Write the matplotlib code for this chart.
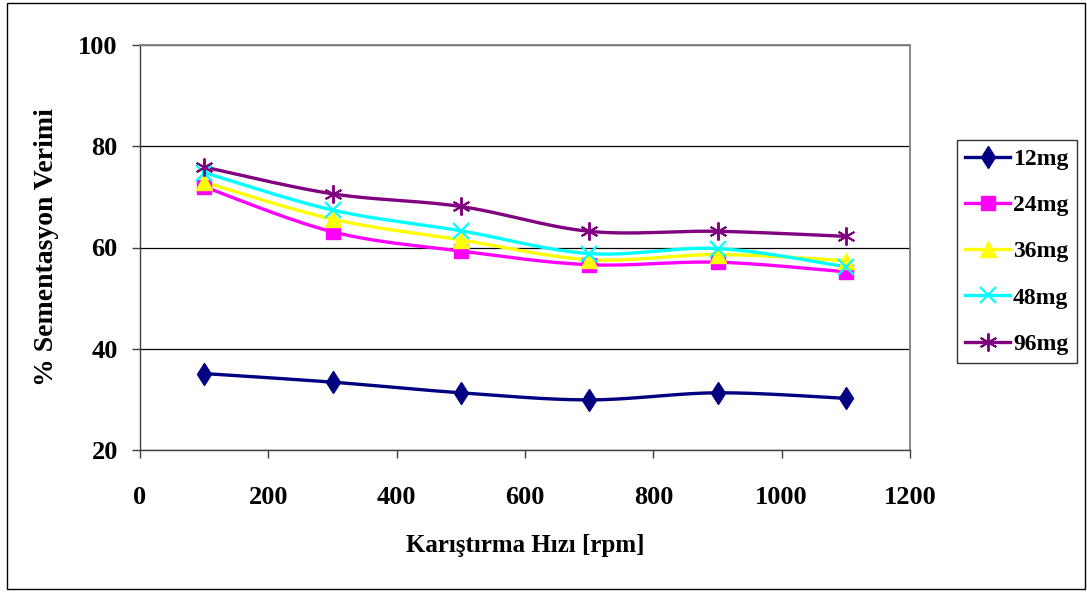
#!/usr/bin/env python
import numpy as np
import matplotlib
matplotlib.use("Agg")
import matplotlib.pyplot as plt
from matplotlib.patches import Rectangle


SPEED = [100, 300, 500, 700, 900, 1100]

Y_12MG = [35.1, 33.4, 31.3, 29.9, 31.3, 30.2]
Y_24MG = [72.0, 63.1, 59.3, 56.6, 57.1, 55.2]
Y_36MG = [72.9, 65.6, 61.5, 57.6, 58.6, 57.4]
Y_48MG = [74.8, 67.4, 63.3, 58.8, 59.8, 56.2]
Y_96MG = [75.9, 70.6, 68.1, 63.2, 63.2, 62.2]

SERIES = [
    ("12mg", Y_12MG, "#000080", "d", 11.5, 1.0),
    ("24mg", Y_24MG, "#ff00ff", "s", 9.5, 1.0),
    ("36mg", Y_36MG, "#ffff00", "^", 12, 1.0),
    ("48mg", Y_48MG, "#00ffff", "x", 11, 1.6),
    ("96mg", Y_96MG, "#800080", (6, 2, 0), 13, 1.4),
]


def smooth(x, y, n=30):
    """Catmull-Rom curve through the points, like a spreadsheet 'smoothed line'."""
    x = np.asarray(x, float)
    y = np.asarray(y, float)
    px = np.concatenate([[x[0]], x, [x[-1]]])
    py = np.concatenate([[y[0]], y, [y[-1]]])
    xs, ys = [], []
    t = np.linspace(0, 1, n)
    for i in range(1, len(px) - 2):
        p0, p1, p2, p3 = (np.array([px[j], py[j]]) for j in range(i - 1, i + 3))
        c1 = p1 + (p2 - p0) / 6.0
        c2 = p2 - (p3 - p1) / 6.0
        pts = ((1 - t) ** 3)[:, None] * p1 + (3 * (1 - t) ** 2 * t)[:, None] * c1 \
            + (3 * (1 - t) * t ** 2)[:, None] * c2 + (t ** 3)[:, None] * p2
        xs.append(pts[:, 0])
        ys.append(pts[:, 1])
    return np.concatenate(xs), np.concatenate(ys)


def main():
    plt.rcParams["font.family"] = ["Liberation Serif", "DejaVu Serif"]
    plt.rcParams["font.weight"] = "bold"

    fig = plt.figure(figsize=(10.87, 5.92), dpi=100)
    fig.patches.append(Rectangle((7 / 1087, 3 / 592), 1078 / 1087, 586 / 592,
                                 transform=fig.transFigure, fill=False,
                                 edgecolor="black", linewidth=1.0))

    ax = fig.add_axes([140 / 1087, 1 - 450 / 592, 770 / 1087, 405 / 592])

    handles = []
    for name, ys, color, marker, ms, mew in SERIES:
        sx, sy = smooth(SPEED, ys)
        ax.plot(sx, sy, color=color, linewidth=2.4, zorder=3)
        ax.plot(SPEED, ys, linestyle="none", marker=marker, markersize=ms,
                color=color, markeredgecolor=color, markeredgewidth=mew, zorder=4)
        h, = ax.plot([], [], color=color, linewidth=2.4, marker=marker,
                     markersize=ms, markeredgecolor=color, markeredgewidth=mew)
        h.set_label(name)
        handles.append(h)

    ax.set_xlim(0, 1200)
    ax.set_ylim(20, 100)
    ax.set_xticks(range(0, 1201, 200))
    ax.set_yticks(range(20, 101, 20))
    ax.yaxis.grid(True, color="black", linewidth=0.9)
    ax.set_axisbelow(True)

    for side in ("top", "right"):
        ax.spines[side].set_color("#808080")
        ax.spines[side].set_linewidth(1.3)
    for side in ("left", "bottom"):
        ax.spines[side].set_color("#404040")
        ax.spines[side].set_linewidth(1.0)

    ax.tick_params(direction="out", length=6, width=1.0, color="#404040",
                   labelsize=19, pad=10)
    ax.tick_params(axis="x", pad=20)
    for lbl in ax.get_xticklabels() + ax.get_yticklabels():
        lbl.set_fontweight("bold")

    ax.set_xlabel("Karıştırma Hızı [rpm]", fontsize=18, fontweight="bold",
                  labelpad=18)
    ax.set_ylabel("% Sementasyon Verimi", fontsize=20, fontweight="bold",
                  labelpad=14)

    leg = fig.legend(handles=handles, loc="upper left",
                     bbox_to_anchor=(957 / 1087, 1 - 140 / 592),
                     borderaxespad=0, frameon=True, fancybox=False,
                     edgecolor="black", handlelength=1.9, handletextpad=0.12,
                     labelspacing=1.05, borderpad=0.35,
                     prop={"size": 17, "weight": "bold"})
    leg.get_frame().set_linewidth(1.0)

    fig.savefig("out.png", dpi=100)


if __name__ == "__main__":
    main()
